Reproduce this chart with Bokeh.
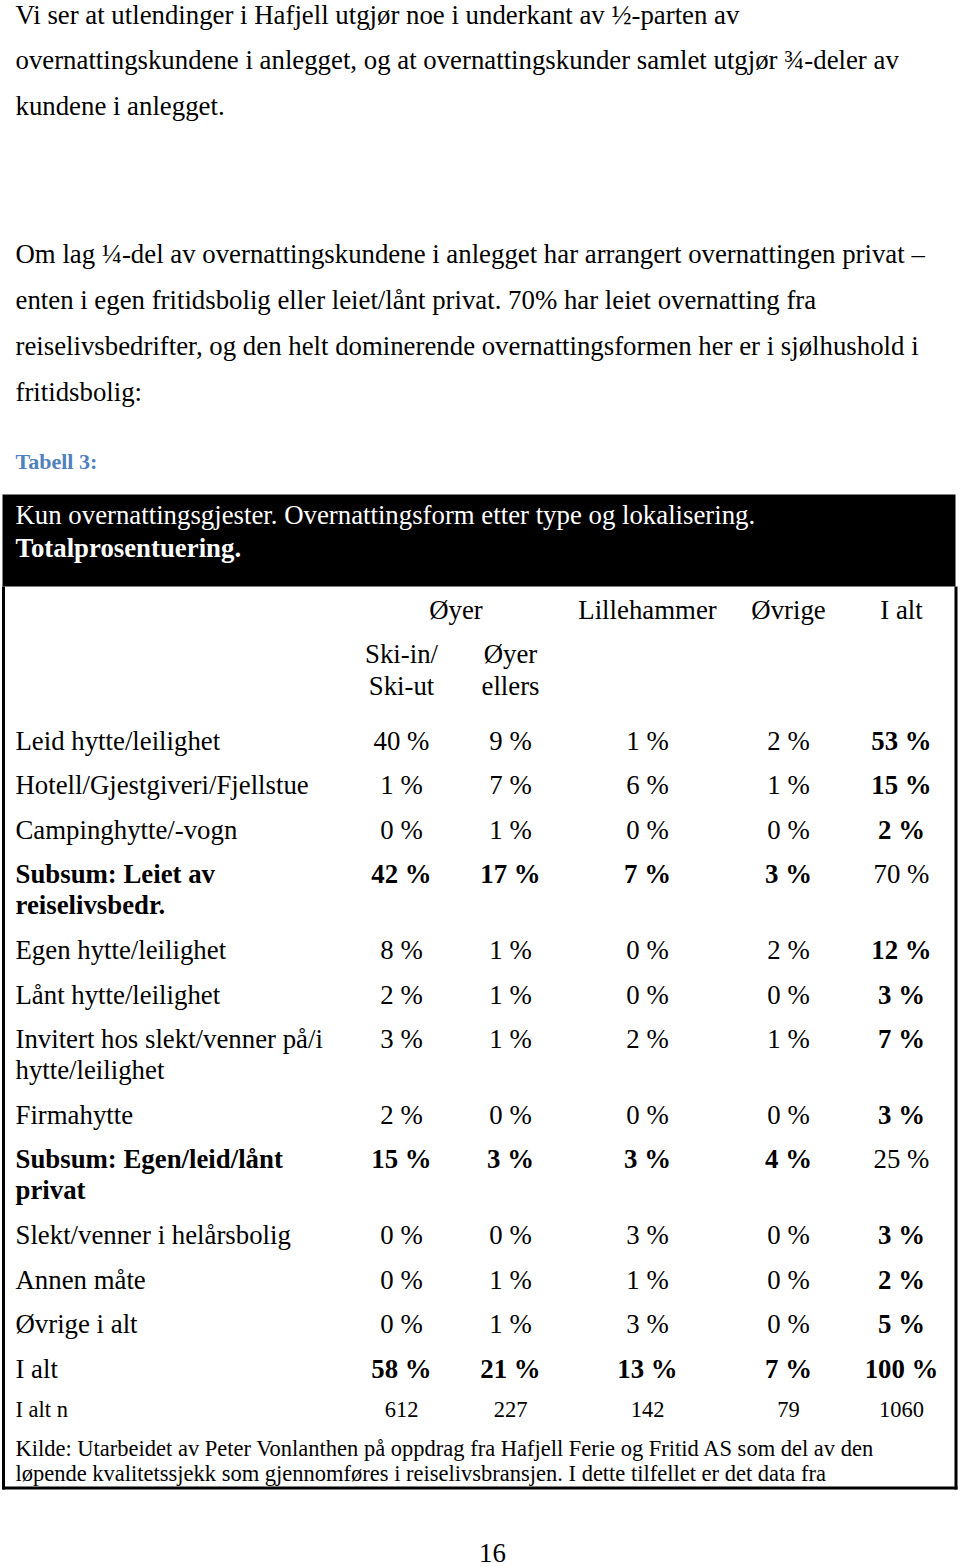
from bokeh.plotting import figure
from bokeh.models import Range1d
from bokeh.core.properties import value
from bokeh.embed import file_html
from bokeh.resources import INLINE

FONT = "Liberation Serif"

# ---------------- texts & data ----------------
para1 = [
    "Vi ser at utlendinger i Hafjell utgjør noe i underkant av ½-parten av",
    "overnattingskundene i anlegget, og at overnattingskunder samlet utgjør ¾-deler av",
    "kundene i anlegget.",
]
para2 = [
    "Om lag ¼-del av overnattingskundene i anlegget har arrangert overnattingen privat –",
    "enten i egen fritidsbolig eller leiet/lånt privat. 70% har leiet overnatting fra",
    "reiselivsbedrifter, og den helt dominerende overnattingsformen her er i sjølhushold i",
    "fritidsbolig:",
]
caption = "Tabell  3:"
title_lines = [
    "Kun overnattingsgjester. Overnattingsform etter type og lokalisering.",
    "Totalprosentuering.",
]
group_head = "Øyer"
sub_heads = [["Ski-in/", "Ski-ut"], ["Øyer", "ellers"]]
col_heads = ["Lillehammer", "Øvrige", "I alt"]

row_labels = [
    ["Leid hytte/leilighet"],
    ["Hotell/Gjestgiveri/Fjellstue"],
    ["Campinghytte/-vogn"],
    ["Subsum: Leiet av", "reiselivsbedr."],
    ["Egen hytte/leilighet"],
    ["Lånt hytte/leilighet"],
    ["Invitert hos slekt/venner på/i", "hytte/leilighet"],
    ["Firmahytte"],
    ["Subsum: Egen/leid/lånt", "privat"],
    ["Slekt/venner i helårsbolig"],
    ["Annen måte"],
    ["Øvrige i alt"],
    ["I alt"],
]
row_kind = ["", "", "", "subsum", "", "", "", "", "subsum", "", "", "", "total"]

ski_in = [40, 1, 0, 42, 8, 2, 3, 2, 15, 0, 0, 0, 58]
oyer_ellers = [9, 7, 1, 17, 1, 1, 1, 0, 3, 0, 1, 1, 21]
lillehammer = [1, 6, 0, 7, 0, 0, 2, 0, 3, 3, 1, 3, 13]
ovrige = [2, 1, 0, 3, 2, 0, 1, 0, 4, 0, 0, 0, 7]
i_alt = [53, 15, 2, 70, 12, 3, 7, 3, 25, 3, 2, 5, 100]

n_label = "I alt n"
n_values = [612, 227, 142, 79, 1060]

source_lines = [
    "Kilde: Utarbeidet av Peter Vonlanthen på oppdrag fra Hafjell Ferie og Fritid AS som del av den",
    "løpende kvalitetssjekk som gjennomføres i reiselivsbransjen. I dette tilfellet er det data fra",
]
page_no = "16"

# ---------------- figure ----------------
p = figure(width=960, height=1567, x_range=Range1d(0, 960), y_range=Range1d(1567, 0),
           output_backend="svg", toolbar_location=None,
           x_axis_location=None, y_axis_location=None, min_border=0,
           outline_line_color=None, background_fill_color="white")
p.grid.visible = False


def txt(xs, ys, ss, size, bold=False, align="left", color="black"):
    p.text(x=xs, y=ys, text=ss, text_font=value(FONT), text_font_size=f"{size}px",
           text_font_style="bold" if bold else "normal", text_align=align,
           text_baseline="middle", text_color=color)


BODY = 26.8
LEFT = 15

# paragraphs
txt([LEFT] * len(para1), [14 + 45.5 * i for i in range(len(para1))], para1, BODY)
txt([LEFT] * len(para2), [253 + 46 * i for i in range(len(para2))], para2, BODY)

# caption
txt([LEFT], [461], [caption], 22, bold=True, color="#4F81BD")

# black title band
p.quad(left=[2], right=[955], top=[494], bottom=[586], fill_color="black", line_color=None)
txt([LEFT], [514], [title_lines[0]], BODY, color="white")
txt([LEFT], [547], [title_lines[1]], BODY, bold=True, color="white")

# table frame
p.segment(x0=[3, 955.5, 2], y0=[586, 586, 1487.5], x1=[3, 955.5, 957], y1=[1489, 1489, 1487.5],
          line_color="black", line_width=3)

col_x = [401, 510, 647, 788, 901]

# headers
txt([(col_x[0] + col_x[1]) / 2], [609], [group_head], BODY, align="center")
txt(col_x[2:], [609] * 3, col_heads, BODY, align="center")
for k in range(2):
    txt([col_x[k]] * 2, [653, 685], sub_heads[k], BODY, align="center")

# body rows
cols = [ski_in, oyer_ellers, lillehammer, ovrige, i_alt]
ROW = 44.6
SUB = 31
y = 740.0
for r, lines in enumerate(row_labels):
    kind = row_kind[r]
    txt([LEFT] * len(lines), [y + SUB * i for i in range(len(lines))], lines, BODY,
        bold=(kind == "subsum"))
    for c, series in enumerate(cols):
        is_total_col = (c == len(cols) - 1)
        if kind == "total":
            bold = True
        else:
            bold = (kind == "subsum") != is_total_col
        txt([col_x[c]], [y], [f"{series[r]} %"], BODY, bold=bold, align="center")
    y += ROW + SUB * (len(lines) - 1)

# n row
txt([LEFT], [1409], [n_label], 22.5)
txt(col_x, [1409] * 5, [str(v) for v in n_values], 22.5, align="center")

# source
txt([LEFT] * 2, [1448, 1473], source_lines, 22.5)

# page number
txt([492], [1552], [page_no], BODY, align="center")

open("out.html", "w").write(file_html(p, INLINE))
